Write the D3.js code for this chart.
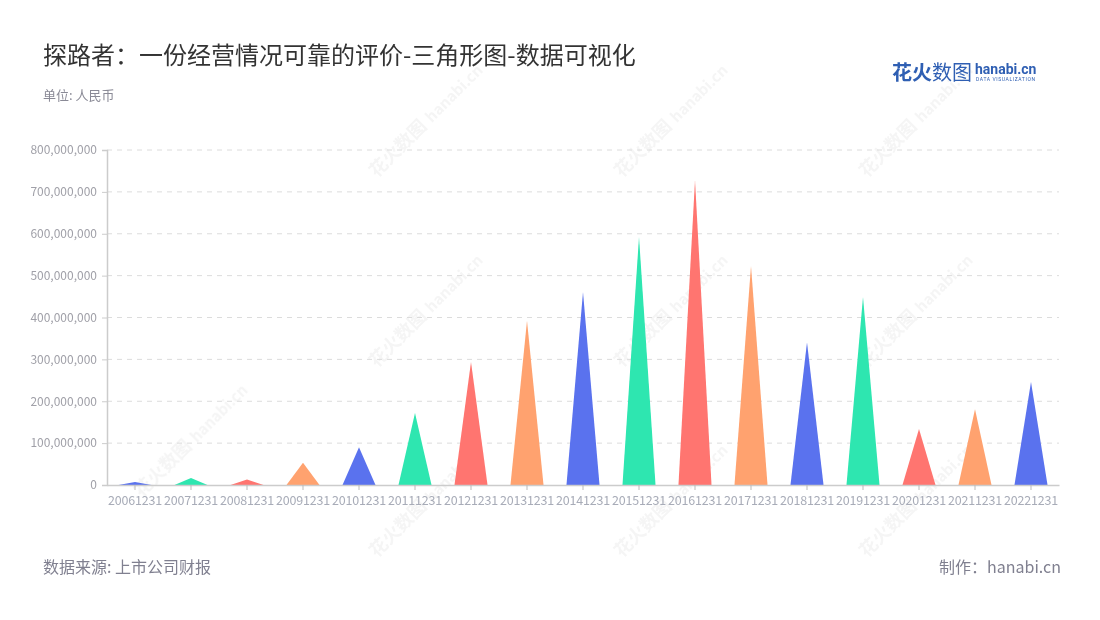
<!DOCTYPE html>
<html><head><meta charset="utf-8">
<script src="https://cdn.jsdelivr.net/npm/d3@7/dist/d3.min.js"></script>
<style>
body{margin:0;background:#fff;}
svg{display:block;font-family:"Noto Sans CJK SC","Noto Sans",sans-serif;}
</style></head>
<body><svg id="c" width="1100" height="620"></svg>
<script>
const categories = ["20061231","20071231","20081231","20091231","20101231","20111231","20121231","20131231","20141231","20151231","20161231","20171231","20181231","20191231","20201231","20211231","20221231"];
const values = [7e6,17e6,13e6,53e6,90e6,172e6,294e6,392e6,461e6,592e6,728e6,523e6,341e6,449e6,134e6,181e6,246e6];
const yTicks = [0,1e8,2e8,3e8,4e8,5e8,6e8,7e8,8e8];
const palette = ["#5a72ee","#2ee6b0","#ff7570","#ffa26f"];

const svg = d3.select("#c");
const mLeft = 107, mRight = 1059, mTop = 150, mBottom = 485;

// watermarks
const wm = svg.append("g").attr("opacity",0.06).attr("fill","#555");
[[170,470],[405,150],[650,150],[895,150],[405,340],[650,340],[895,340],[405,530],[650,530],[895,530]].forEach(p=>{
  const g = wm.append("g").attr("transform",`translate(${p[0]},${p[1]}) rotate(-45)`);
  g.append("text").attr("x",-40).attr("y",0).attr("font-size",18).attr("font-weight","bold").text("花火数图");
  g.append("text").attr("x",38).attr("y",0).attr("font-size",15).attr("font-weight","bold").text("hanabi.cn");
});

const x = d3.scaleBand().domain(categories).range([mLeft,mRight]);
const y = d3.scaleLinear().domain([0,8e8]).range([mBottom,mTop]);

// grid
svg.append("g").selectAll("line").data(yTicks.slice(1)).join("line")
  .attr("x1",mLeft).attr("x2",mRight).attr("y1",d=>y(d)).attr("y2",d=>y(d))
  .attr("stroke","#dcdcdc").attr("stroke-dasharray","5,5");

// triangles
const bw = x.bandwidth()*0.59;
svg.append("g").selectAll("path").data(categories).join("path")
  .attr("d",(c,i)=>{
    const cx = x(c)+x.bandwidth()/2;
    return `M${cx-bw/2},${y(0)}L${cx},${y(values[i])}L${cx+bw/2},${y(0)}Z`;
  })
  .attr("fill",(c,i)=>palette[i%4]);

// y axis
const ya = svg.append("g").attr("transform",`translate(${mLeft},0)`)
  .call(d3.axisLeft(y).tickValues(yTicks).tickFormat(d=>d===0?"0":d3.format(",")(d)).tickSize(5).tickPadding(5));
ya.select(".domain").attr("stroke","#cccccc").attr("stroke-width",1.5);
ya.selectAll(".tick line").attr("stroke","#cccccc");
ya.selectAll("text").attr("fill","#a0a0a8").attr("font-size",12).attr("font-family","'Noto Sans CJK SC',sans-serif");

// x axis
const xa = svg.append("g").attr("transform",`translate(0,${mBottom})`)
  .call(d3.axisBottom(x).tickSize(5).tickPadding(6).tickSizeOuter(0));
xa.select(".domain").attr("stroke","#cccccc").attr("stroke-width",1.5);
xa.selectAll(".tick line").attr("stroke","#bbbbbb");
xa.selectAll("text").attr("fill","#a8acb8").attr("font-size",12.5).attr("letter-spacing",-0.2).attr("font-family","'Noto Sans CJK SC',sans-serif");

// titles
svg.append("text").attr("x",43).attr("y",64).attr("font-size",24).attr("fill","#333").text("探路者：一份经营情况可靠的评价-三角形图-数据可视化");
svg.append("text").attr("x",43).attr("y",100).attr("font-size",13).attr("fill","#8a8a96").text("单位: 人民币");
svg.append("text").attr("x",43).attr("y",573).attr("font-size",16).attr("fill","#808090").text("数据来源: 上市公司财报");
svg.append("text").attr("x",1061).attr("y",573).attr("text-anchor","end").attr("font-size",16).attr("fill","#808090").text("制作：hanabi.cn");

// logo
svg.append("text").attr("x",892).attr("y",80).attr("font-size",20).attr("font-weight","bold").attr("fill","#2f5fb3").text("花火");
svg.append("text").attr("x",932).attr("y",80).attr("font-size",20).attr("fill","#2f5fb3").text("数图");
svg.append("text").attr("x",975).attr("y",74).attr("font-size",14).attr("font-weight","bold").attr("fill","#2f5fb3").attr("font-family","Roboto,sans-serif").text("hanabi.cn");
svg.append("text").attr("x",976).attr("y",81).attr("font-size",5).attr("fill","#2f5fb3").attr("letter-spacing",0.6).attr("font-family","Roboto,sans-serif").text("DATA VISUALIZATION");
</script></body></html>
